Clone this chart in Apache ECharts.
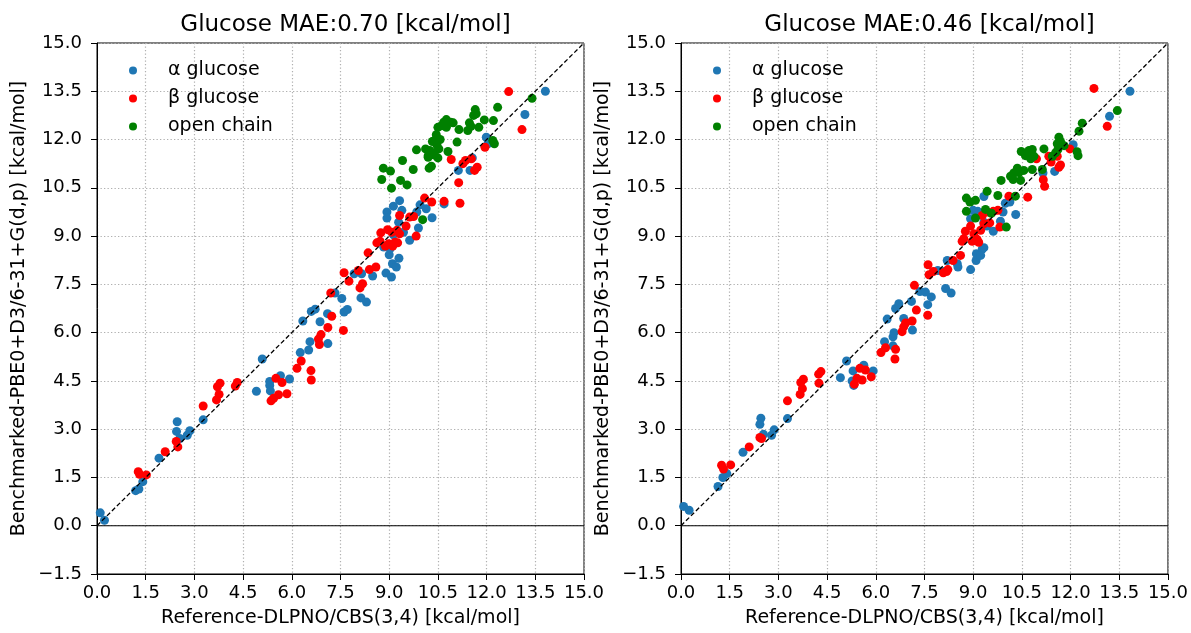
<!DOCTYPE html>
<html>
<head>
<meta charset="utf-8">
<script src="https://cdn.jsdelivr.net/npm/echarts@6/dist/echarts.min.js"></script>
<style>
  html, body { margin: 0; padding: 0; background: #fff; }
  #chart { width: 1191px; height: 633px; }
</style>
</head>
<body>
<div id="chart"></div>
<script>
// Axis ticks shared by both panels
const xTicks = [0.0, 1.5, 3.0, 4.5, 6.0, 7.5, 9.0, 10.5, 12.0, 13.5, 15.0];
const yTicks = [-1.5, 0.0, 1.5, 3.0, 4.5, 6.0, 7.5, 9.0, 10.5, 12.0, 13.5, 15.0];

const titles = ['Glucose MAE:0.70 [kcal/mol]', 'Glucose MAE:0.46 [kcal/mol]'];
const seriesNames = ['α glucose', 'β glucose', 'open chain'];

// Left panel: [reference, benchmarked] energies in kcal/mol
const alphaLeft = [
  [0.1,0.4],[0.23,0.17],[1.19,1.09],[1.29,1.14],[1.41,1.37],[1.91,2.1],[2.47,3.23],[2.45,2.93],
  [2.55,2.71],[2.78,2.81],[2.86,2.95],[3.27,3.29],[4.91,4.18],[5.32,4.48],[5.32,4.36],[5.34,4.19],
  [5.65,4.66],[5.93,4.56],[5.09,5.18],[6.26,5.38],[6.52,5.46],[6.56,5.72],[7.11,5.66],[6.34,6.36],
  [6.6,6.66],[6.72,6.73],[6.87,6.34],[7.1,6.59],[7.61,6.64],[7.71,6.72],[7.54,7.06],[7.33,7.23],
  [8.13,7.08],[8.3,6.95],[7.92,7.83],[8.15,7.83],[8.49,7.76],[8.9,7.85],[9.07,7.73],[9.1,8.14],
  [9.22,8.04],[9.3,8.31],[9.0,8.42],[8.83,8.66],[9.03,8.61],[9.13,9.04],[9.44,9.12],[9.63,8.87],
  [9.9,9.25],[8.93,9.75],[8.93,9.56],[9.13,9.93],[9.39,9.8],[9.29,9.43],[9.32,10.1],[9.85,9.75],
  [9.95,9.97],[10.14,9.85],[10.32,9.57],[10.69,10.0],[11.13,11.04],[11.49,11.04],[11.56,11.43],
  [11.99,12.07],[12.04,11.87],[13.18,12.78],[13.81,13.5]
];
const betaLeft = [
  [1.27,1.68],[1.31,1.6],[1.52,1.58],[2.1,2.3],[2.44,2.62],[2.49,2.45],[3.27,3.72],[3.68,3.91],
  [3.76,4.08],[3.71,4.32],[3.79,4.43],[4.26,4.34],[4.32,4.45],[5.36,3.88],[5.44,3.96],[5.59,4.07],
  [5.85,4.1],[5.51,4.58],[5.7,4.45],[6.6,4.53],[6.59,4.82],[6.16,4.89],[6.29,5.12],[6.82,5.8],
  [6.85,5.63],[6.9,5.94],[7.11,6.16],[7.59,6.07],[7.23,6.51],[7.2,7.23],[8.1,7.39],[8.18,7.52],
  [7.61,7.86],[7.76,7.6],[8.05,7.93],[8.39,7.96],[8.59,8.04],[8.35,8.48],[8.62,8.79],[8.72,8.84],
  [8.88,8.69],[8.98,8.76],[9.11,8.69],[9.18,8.81],[9.26,8.79],[8.74,9.1],[8.95,9.2],[9.08,9.12],
  [9.24,9.18],[9.32,9.07],[9.52,9.31],[9.83,9.0],[9.32,9.64],[9.63,9.59],[9.75,9.61],[10.09,10.18],
  [10.31,10.06],[10.69,10.08],[11.18,10.02],[11.14,10.66],[11.63,11.04],[11.71,11.14],[10.91,11.38],
  [11.35,11.35],[11.27,11.25],[11.53,11.4],[11.95,11.76],[13.09,12.31],[12.68,13.49]
];
const openLeft = [
  [13.4,13.28],[12.34,13.0],[11.65,12.93],[11.68,12.8],[11.6,12.75],[11.47,12.52],[11.52,12.41],
  [11.76,12.38],[11.42,12.28],[11.93,12.61],[12.21,12.59],[12.19,11.97],[12.24,11.87],[10.76,12.62],
  [10.89,12.54],[10.97,12.52],[10.68,12.54],[10.61,12.43],[10.5,12.38],[10.76,12.38],[11.15,12.31],
  [11.09,11.92],[10.45,12.15],[10.4,11.97],[10.33,11.94],[10.57,12.0],[10.47,11.83],[10.53,11.71],
  [10.12,11.71],[10.25,11.66],[9.84,11.68],[10.2,11.5],[10.33,11.59],[10.5,11.43],[10.4,11.52],
  [10.2,11.45],[10.81,11.63],[9.41,11.35],[9.74,11.07],[8.82,11.11],[9.04,11.02],[10.23,11.11],
  [10.3,11.17],[8.77,10.76],[9.35,10.73],[9.55,10.59],[9.07,10.49],[10.03,9.51]
];

// Right panel: [reference, benchmarked] energies in kcal/mol
const alphaRight = [
  [0.08,0.6],[0.25,0.48],[1.14,1.22],[1.29,1.5],[1.41,1.62],[1.91,2.28],[2.46,3.34],[2.43,3.15],
  [2.54,2.84],[2.79,2.81],[2.87,2.98],[3.28,3.33],[4.91,4.6],[5.3,4.81],[5.27,4.5],[5.32,4.36],
  [5.63,4.99],[5.92,4.81],[5.1,5.12],[6.27,5.72],[6.53,5.87],[6.56,6.0],[6.53,5.59],[6.86,6.44],
  [7.13,6.08],[6.35,6.42],[6.61,6.75],[6.71,6.9],[7.1,6.97],[7.6,6.87],[7.71,7.11],[7.36,7.28],
  [7.53,7.26],[8.15,7.37],[8.32,7.23],[7.91,7.93],[8.1,7.9],[8.2,8.24],[8.51,8.14],[8.53,8.04],
  [8.92,7.96],[9.09,8.24],[9.1,8.45],[9.28,8.6],[9.23,8.4],[9.33,8.64],[8.92,9.54],[9.07,9.59],
  [9.14,9.77],[9.0,9.8],[9.28,9.72],[9.33,9.43],[9.43,9.31],[9.62,9.15],[9.84,9.46],[9.92,9.75],
  [9.99,10.02],[10.13,10.06],[10.31,9.67],[9.33,10.23],[11.15,10.96],[11.51,11.01],[12.08,11.84],
  [13.2,12.72],[13.83,13.5]
];
const betaRight = [
  [1.25,1.88],[1.31,1.76],[1.53,1.89],[2.1,2.45],[2.43,2.74],[2.48,2.71],[3.28,3.88],[3.67,4.08],
  [3.74,4.26],[3.69,4.45],[3.77,4.55],[4.25,4.43],[4.24,4.71],[4.31,4.79],[5.51,4.89],[5.68,4.84],
  [5.42,4.58],[5.58,4.53],[5.86,4.63],[5.34,4.4],[6.16,5.38],[6.3,5.53],[6.61,5.48],[6.59,5.18],
  [6.81,6.03],[6.86,6.18],[6.92,6.3],[7.12,6.36],[7.25,6.7],[7.6,6.54],[7.19,7.47],[7.61,8.11],
  [7.77,7.9],[7.64,7.8],[8.08,7.86],[8.18,7.9],[8.22,7.96],[8.38,8.24],[8.61,8.4],[8.66,8.84],
  [8.71,8.92],[8.97,8.84],[9.12,8.9],[9.17,8.81],[8.92,9.31],[8.76,9.15],[9.02,9.07],[9.23,9.18],
  [9.33,9.38],[9.51,9.41],[9.28,9.64],[9.43,9.75],[9.62,9.77],[9.76,9.8],[9.82,9.28],[10.1,10.24],
  [10.68,10.21],[11.16,10.75],[11.2,10.55],[10.95,11.4],[11.33,11.48],[11.59,11.48],[11.4,11.3],
  [11.69,11.21],[11.64,11.14],[11.98,11.71],[13.13,12.41],[12.72,13.59]
];
const openRight = [
  [13.44,12.9],[12.36,12.51],[12.26,12.26],[11.64,12.07],[11.69,11.94],[11.8,11.81],[11.59,11.87],
  [12.23,11.5],[12.2,11.62],[11.18,11.71],[10.82,11.69],[10.72,11.66],[10.61,11.5],[10.48,11.63],
  [10.87,11.48],[10.77,11.4],[10.36,11.11],[10.41,10.97],[10.56,11.04],[10.82,11.07],[10.25,10.96],
  [10.15,10.86],[10.23,10.76],[10.46,10.73],[11.13,11.07],[11.44,11.48],[11.54,11.59],[11.61,11.69],
  [9.86,10.73],[8.79,10.18],[8.9,10.06],[9.07,10.11],[8.79,9.77],[9.43,10.39],[9.76,10.26],
  [9.38,9.83],[10.3,10.24],[10.02,9.28],[9.07,9.56],[9.56,9.71]
];

// Reference lines: parity diagonal and zero baseline
const parityLine = [[0, 0], [15, 15]];
const zeroLine = [[0, 0], [15, 0]];

const panels = [
  { alpha: alphaLeft, beta: betaLeft, open: openLeft },
  { alpha: alphaRight, beta: betaRight, open: openRight }
];

const FONT = 'DejaVu Sans';
const colors = ['#1f77b4', '#ff0000', '#008000'];
const fmt = v => (v < -1e-9 ? '\u2212' : '') + Math.abs(v).toFixed(1);

const gridPos = [
  { left: 97, width: 487, top: 43, height: 534 },
  { left: 681, width: 487, top: 43, height: 534 }
];

const splitLineStyle = { show: true, lineStyle: { color: '#b0b0b0', width: 1.2, type: [1.3, 2.2] } };

const option = {
  animation: false,
  backgroundColor: '#fff',
  textStyle: { fontFamily: FONT },
  title: titles.map((t, i) => ({
    text: t,
    left: gridPos[i].left + gridPos[i].width / 2,
    top: 9,
    textAlign: 'center',
    textStyle: { fontFamily: FONT, fontSize: 23, fontWeight: 'normal', color: '#000' }
  })),
  legend: gridPos.map(g => ({
    data: seriesNames,
    orient: 'vertical',
    left: g.left + 27,
    top: 56,
    icon: 'circle',
    itemWidth: 8,
    itemHeight: 8,
    itemGap: 9,
    selectedMode: false,
    textStyle: { fontFamily: FONT, fontSize: 19, color: '#000', lineHeight: 19, padding: [0, 0, 0, 26] }
  })),
  grid: gridPos.map(g => ({
    left: g.left, width: g.width, top: g.top, height: g.height,
    show: true, borderColor: '#000', borderWidth: 1, backgroundColor: 'transparent'
  })),
  xAxis: gridPos.map((g, i) => ({
    gridIndex: i, type: 'value', min: xTicks[0], max: xTicks[xTicks.length - 1], interval: 1.5,
    name: 'Reference-DLPNO/CBS(3,4) [kcal/mol]', nameLocation: 'middle', nameGap: 35,
    nameTextStyle: { fontFamily: FONT, fontSize: 19, color: '#000' },
    axisLine: { show: true, onZero: false, lineStyle: { color: '#000', width: 1 } },
    axisTick: { show: true, length: 6, lineStyle: { color: '#000' } },
    axisLabel: { formatter: fmt, fontFamily: FONT, fontSize: 18, color: '#000', margin: 10 },
    splitLine: splitLineStyle
  })),
  yAxis: gridPos.map((g, i) => ({
    gridIndex: i, type: 'value', min: yTicks[0], max: yTicks[yTicks.length - 1], interval: 1.5,
    name: 'Benchmarked-PBE0+D3/6-31+G(d,p) [kcal/mol]', nameLocation: 'middle', nameGap: 68,
    nameTextStyle: { fontFamily: FONT, fontSize: 19, color: '#000' },
    axisLine: { show: true, onZero: false, lineStyle: { color: '#000', width: 1 } },
    axisTick: { show: true, length: 6, lineStyle: { color: '#000' } },
    axisLabel: { formatter: fmt, fontFamily: FONT, fontSize: 18, color: '#000', margin: 15 },
    splitLine: splitLineStyle
  })),
  series: []
};

panels.forEach((p, i) => {
  [p.alpha, p.beta, p.open].forEach((d, k) => {
    option.series.push({
      name: seriesNames[k], type: 'scatter', xAxisIndex: i, yAxisIndex: i,
      data: d, symbolSize: 9, itemStyle: { color: colors[k], opacity: 1 },
      emphasis: { disabled: true }
    });
  });
  option.series.push({
    name: 'zero', type: 'line', xAxisIndex: i, yAxisIndex: i, data: zeroLine,
    symbol: 'none', silent: true, lineStyle: { color: '#000', width: 1.2 }, z: 3
  });
  option.series.push({
    name: 'parity', type: 'line', xAxisIndex: i, yAxisIndex: i, data: parityLine,
    symbol: 'none', silent: true, lineStyle: { color: '#000', width: 1.3, type: [4.5, 2.5] }, z: 4
  });
});

const chart = echarts.init(document.getElementById('chart'), null, { renderer: 'canvas' });
chart.setOption(option);
</script>
</body>
</html>
